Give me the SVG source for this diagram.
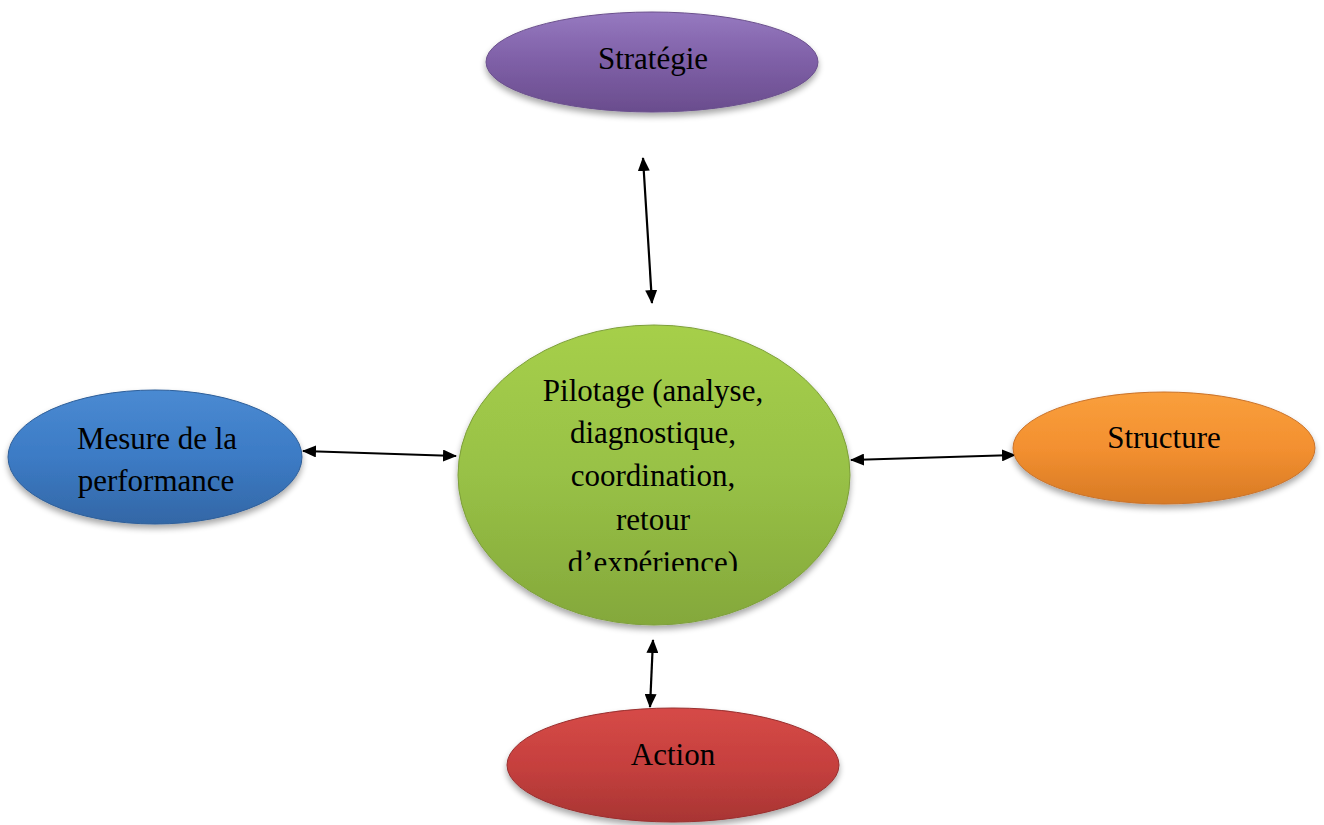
<svg xmlns="http://www.w3.org/2000/svg" width="1324" height="825" viewBox="0 0 1324 825">
<style>
.lbl{font-family:"Liberation Serif","Times New Roman",serif;font-size:31px;fill:#000;text-anchor:middle}
.edge{stroke:#000;stroke-width:2.2;fill:none;marker-start:url(#ah);marker-end:url(#ah)}
.node ellipse{filter:url(#sh)}
</style>
<defs>
<marker id="ah" viewBox="0 0 14 12" refX="13" refY="6" markerWidth="14" markerHeight="12" orient="auto-start-reverse" markerUnits="userSpaceOnUse">
<path d="M0,0 L14,6 L0,12 z" fill="#000"/>
</marker>
<filter id="sh" x="-10%" y="-10%" width="120%" height="130%">
<feGaussianBlur in="SourceAlpha" stdDeviation="3"/>
<feOffset dx="0" dy="4" result="b"/>
<feComponentTransfer><feFuncA type="linear" slope="0.35"/></feComponentTransfer>
<feMerge><feMergeNode/><feMergeNode in="SourceGraphic"/></feMerge>
</filter>
<linearGradient id="gPurple" x1="0" y1="0" x2="0" y2="1"><stop offset="0" stop-color="#9679c0"/><stop offset="0.5" stop-color="#7e5fa6"/><stop offset="1" stop-color="#6a4d8d"/></linearGradient>
<linearGradient id="gGreen" x1="0" y1="0" x2="0" y2="1"><stop offset="0" stop-color="#a6cf4a"/><stop offset="0.5" stop-color="#98c146"/><stop offset="1" stop-color="#84a83b"/></linearGradient>
<linearGradient id="gBlue" x1="0" y1="0" x2="0" y2="1"><stop offset="0" stop-color="#4a8ad2"/><stop offset="0.5" stop-color="#3c7bc5"/><stop offset="1" stop-color="#3367a6"/></linearGradient>
<linearGradient id="gOrange" x1="0" y1="0" x2="0" y2="1"><stop offset="0" stop-color="#f99f3c"/><stop offset="0.5" stop-color="#f39030"/><stop offset="1" stop-color="#d77a25"/></linearGradient>
<linearGradient id="gRed" x1="0" y1="0" x2="0" y2="1"><stop offset="0" stop-color="#d64a47"/><stop offset="0.5" stop-color="#c6403e"/><stop offset="1" stop-color="#a83533"/></linearGradient>
<clipPath id="clipP"><rect x="440" y="300" width="440" height="271"/></clipPath>
</defs>
<rect width="1324" height="825" fill="#fff"/>
<g id="connectors">
<line class="edge" x1="643" y1="158" x2="652" y2="303"/>
<line class="edge" x1="303" y1="451" x2="456" y2="456"/>
<line class="edge" x1="851" y1="460" x2="1015" y2="455"/>
<line class="edge" x1="653" y1="640" x2="650" y2="707"/>
</g>
<g id="strategie" class="node">
<ellipse cx="652" cy="62" rx="166" ry="50" fill="url(#gPurple)" stroke="#6a4f8c" stroke-width="1"/>
<text class="lbl" x="653" y="69">Stratégie</text>
</g>
<g id="pilotage" class="node">
<ellipse cx="654" cy="475" rx="196" ry="150" fill="url(#gGreen)" stroke="#7d9f3a" stroke-width="1"/>
<g clip-path="url(#clipP)">
<text class="lbl" x="653" y="401">Pilotage (analyse,</text>
<text class="lbl" x="653" y="443">diagnostique,</text>
<text class="lbl" x="653" y="486">coordination,</text>
<text class="lbl" x="653" y="530">retour</text>
<text class="lbl" x="653" y="573">d’expérience)</text>
</g>
</g>
<g id="mesure" class="node">
<ellipse cx="155" cy="457" rx="147" ry="67" fill="url(#gBlue)" stroke="#2f5f99" stroke-width="1"/>
<text class="lbl" x="157" y="449">Mesure de la</text>
<text class="lbl" x="156" y="491">performance</text>
</g>
<g id="structure" class="node">
<ellipse cx="1164" cy="448" rx="151" ry="56" fill="url(#gOrange)" stroke="#c9722a" stroke-width="1"/>
<text class="lbl" x="1164" y="448">Structure</text>
</g>
<g id="action" class="node">
<ellipse cx="673" cy="765" rx="166" ry="57" fill="url(#gRed)" stroke="#983030" stroke-width="1"/>
<text class="lbl" x="673" y="765">Action</text>
</g>
</svg>
